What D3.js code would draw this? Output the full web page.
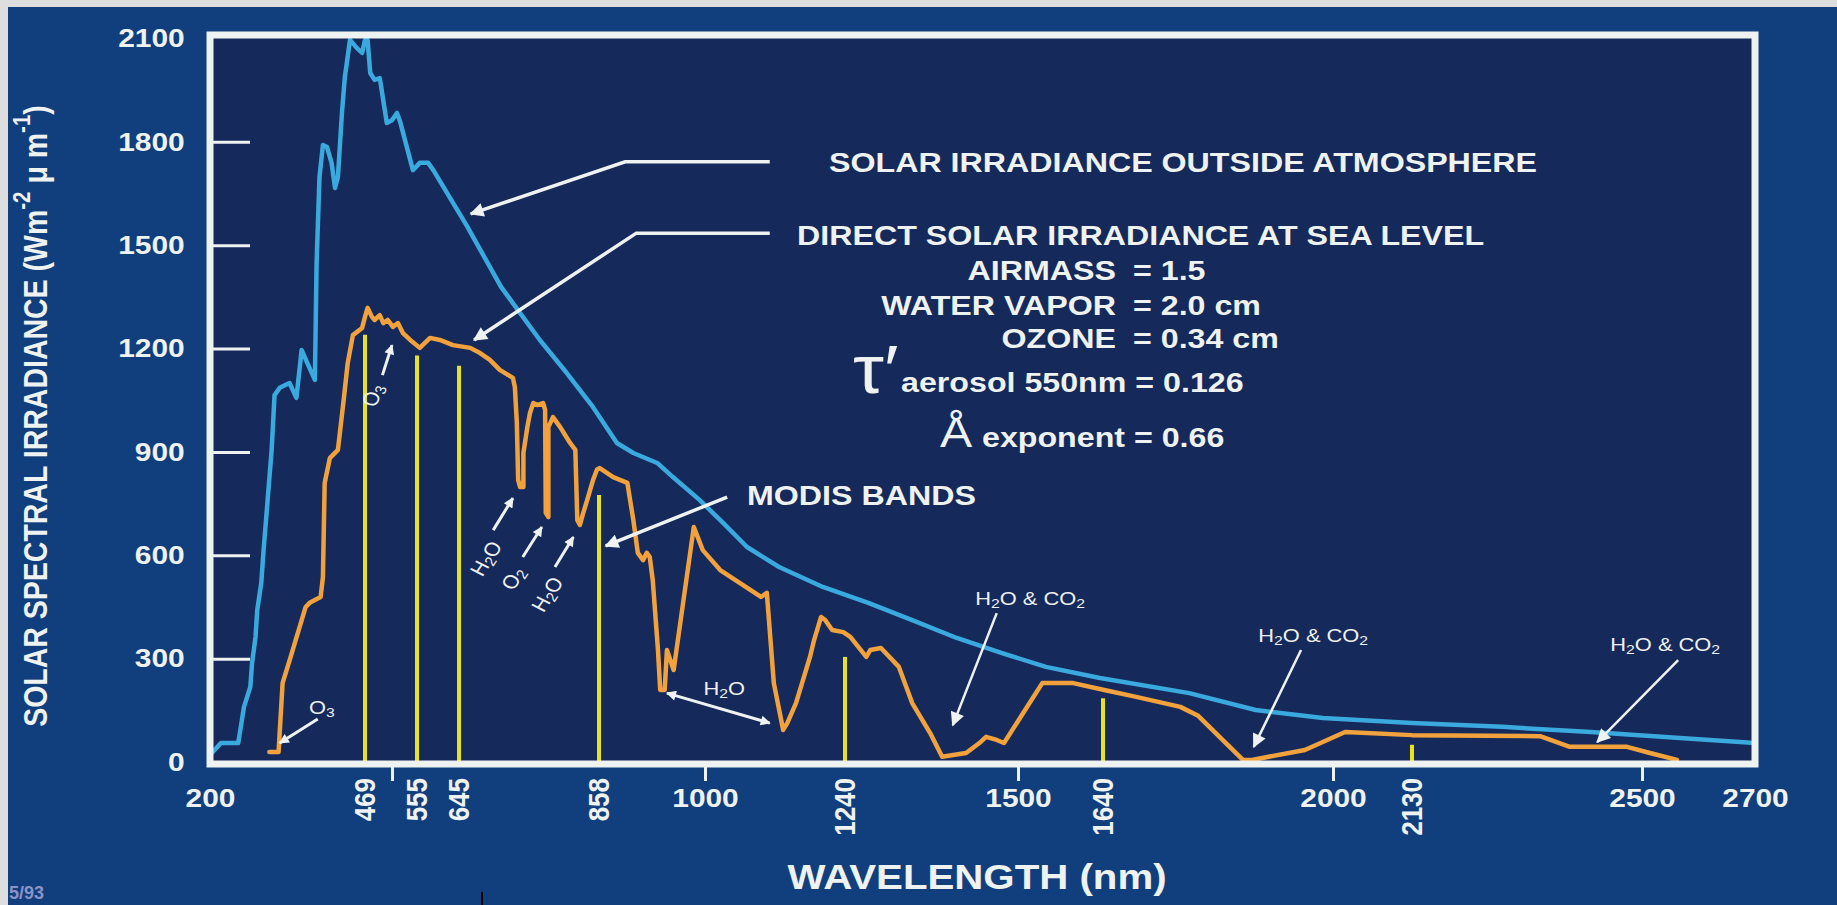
<!DOCTYPE html>
<html>
<head>
<meta charset="utf-8">
<script src="https://cdn.jsdelivr.net/npm/d3@7"></script>
<style>
  html, body { margin: 0; padding: 0; background: #dedede; overflow: hidden; }
  svg { display: block; }
  text { font-family: "Liberation Sans", Arial, Helvetica, sans-serif; fill: #eef2f0; }
</style>
</head>
<body>
<svg id="chart" width="1837" height="905"></svg>
<script>
// ---- Spectra: [wavelength nm, irradiance W m-2 um-1] ----
const toaSpectrum = [
  [200,20],[219,55],[249,55],[259,160],[270,218],[273,287],[279,363],[282,441],[289,520],[293,615],
  [300,760],[307,906],[312,1065],[321,1086],[338,1100],[350,1057],[359,1196],[369,1158],[382,1109],
  [385,1448],[390,1698],[396,1791],[403,1785],[411,1739],[417,1666],[422,1698],[429,1884],[434,1988],
  [443,2096],[455,2072],[464,2058],[469,2096],[472,2096],[475,2000],[480,1980],[486,1985],[494,1855],
  [500,1863],[511,1884],[518,1858],[546,1718],[561,1739],[579,1739],[590,1718],[657,1556],[709,1379],
  [738,1303],[768,1225],[809,1129],[849,1030],[882,926],[904,897],[936,868],[957,827],[993,760],
  [1031,694],[1072,624],[1127,566],[1202,508],[1275,462],[1341,412],[1408,360],[1476,316],[1546,276],
  [1635,244],[1775,200],[1879,151],[1984,128],[2130,113],[2275,102],[2418,87],[2567,70],[2700,55]
];
const seaLevelSpectrum = [
  [303,29],[319,29],[326,229],[340,305],[366,450],[373,462],[392,479],[396,537],[399,810],[408,882],
  [422,906],[432,1051],[439,1158],[448,1239],[464,1260],[469,1292],[472,1318],[477,1292],[480,1283],
  [486,1297],[490,1274],[495,1283],[502,1263],[513,1274],[524,1245],[540,1225],[561,1202],[583,1231],
  [604,1225],[632,1210],[662,1202],[677,1187],[692,1167],[707,1138],[727,1115],[730,1088],[733,984],
  [735,819],[738,798],[743,798],[743,897],[749,972],[753,1013],[758,1042],[764,1036],[773,1042],
  [776,1022],[777,723],[781,711],[781,972],[788,1001],[799,972],[814,926],[822,906],[825,702],
  [829,688],[834,723],[840,760],[849,819],[855,849],[859,853],[877,827],[896,810],[904,702],[910,607],
  [917,586],[922,607],[926,595],[930,528],[937,325],[940,209],[946,209],[949,325],[958,267],[985,682],
  [997,615],[1026,557],[1096,479],[1106,491],[1118,229],[1134,93],[1141,113],[1156,171],[1180,305],
  [1187,354],[1199,421],[1206,412],[1218,383],[1237,377],[1248,363],[1272,305],[1278,325],[1294,331],
  [1321,276],[1341,171],[1368,84],[1386,15],[1422,26],[1442,55],[1452,73],[1468,64],[1479,55],
  [1540,229],[1591,229],[1642,209],[1692,189],[1761,160],[1789,134],[1859,6],[1873,6],[1956,35],
  [2020,87],[2130,78],[2336,75],[2384,44],[2476,44],[2514,26],[2562,6]
];

// ---- MODIS band centres and the height of each band marker ----
const modisBandsNm = [469, 555, 645, 858, 1240, 1640, 2130];
const modisBandTops = [1240, 1180, 1150, 775, 305, 185, 50];

// ---- Axis ticks ----
const yTickValues = [0, 300, 600, 900, 1200, 1500, 1800, 2100];
const xTickMarks = [500, 1000, 1500, 2000, 2500];
const xTickLabels = [200, 1000, 1500, 2000, 2500, 2700];

// ---- Wavelength axis breakpoints (the axis is drawn piecewise) ----
const axisBreaksNm = [200, 469, 500, 555, 645, 858, 1000, 1240, 1500, 1640, 2000, 2130, 2500, 2700];
const axisBreaksPx = [210, 365, 392, 417, 459, 599, 705, 845, 1018, 1103, 1333, 1412, 1642, 1755];

// ---- Layout ----
const W = 1837, H = 905;
const SX = 1.15;                      // horizontal stretch applied to all lettering
const frame = { left: 210, right: 1755, top: 35, bottom: 764 };
const WHITE = "#eef2f0";
const FONT = '"Liberation Sans", Arial, sans-serif';

const svg = d3.select("#chart");
svg.append("rect").attr("width", W).attr("height", H).attr("fill", "#dedede");
svg.append("rect").attr("x", 8).attr("y", 7).attr("width", W - 8).attr("height", H - 7).attr("fill", "#113e7d");
svg.append("rect")
  .attr("x", frame.left).attr("y", frame.top)
  .attr("width", frame.right - frame.left).attr("height", frame.bottom - frame.top)
  .attr("fill", "#15295b");

const x = d3.scaleLinear().domain(axisBreaksNm).range(axisBreaksPx);
const y = d3.scaleLinear().domain([0, 2100]).range([762, 38.5]);

// arrowheads
const defs = svg.append("defs");
function marker(id, w, h) {
  defs.append("marker")
    .attr("id", id).attr("viewBox", "0 0 10 10")
    .attr("refX", 9).attr("refY", 5)
    .attr("markerUnits", "userSpaceOnUse")
    .attr("markerWidth", w).attr("markerHeight", h)
    .attr("orient", "auto-start-reverse")
    .append("path").attr("d", "M0,0 L10,5 L0,10 Z").attr("fill", WHITE);
}
marker("head", 24, 14);
marker("headS", 16, 10);

// text helpers
function sText(parent, px, py, rot) {
  return parent.append("text")
    .attr("transform", `translate(${px},${py}) scale(${SX},1)` + (rot ? ` rotate(${rot})` : ""));
}
function richText(t, parts, fs) {
  let shift = 0;
  parts.forEach(([s, kind]) => {
    const target = kind === "sub" ? 0.3 * fs : kind === "sup" ? -0.42 * fs : 0;
    const ts = t.append("tspan").attr("dy", target - shift).text(s);
    if (kind) ts.attr("font-size", fs * 0.72);
    shift = target;
  });
  return t;
}

// ---- MODIS band markers ----
const plot = svg.append("g");
plot.selectAll("line.band")
  .data(d3.zip(modisBandsNm, modisBandTops))
  .join("line").attr("class", "band")
  .attr("x1", d => x(d[0])).attr("x2", d => x(d[0]))
  .attr("y1", y(0) + 4).attr("y2", d => y(d[1]))
  .attr("stroke", "#e9e21e").attr("stroke-width", 4);

// ---- Spectra ----
const line = d3.line().x(d => x(d[0])).y(d => y(d[1]));
plot.append("path").datum(toaSpectrum).attr("d", line)
  .attr("fill", "none").attr("stroke", "#3aa9dd").attr("stroke-width", 4.5)
  .attr("stroke-linejoin", "round").attr("stroke-linecap", "round");
plot.append("path").datum(seaLevelSpectrum).attr("d", line)
  .attr("fill", "none").attr("stroke", "#f2a23c").attr("stroke-width", 4.5)
  .attr("stroke-linejoin", "round").attr("stroke-linecap", "round");

// ---- Frame ----
svg.append("rect")
  .attr("x", frame.left).attr("y", frame.top)
  .attr("width", frame.right - frame.left).attr("height", frame.bottom - frame.top)
  .attr("fill", "none").attr("stroke", WHITE).attr("stroke-width", 7);

// ---- Y axis ----
const yAxis = d3.axisLeft(y).tickValues(yTickValues).tickFormat(d3.format("d"))
  .tickSizeInner(-40).tickSizeOuter(0).tickPadding(22);
const yg = svg.append("g").attr("transform", `translate(${frame.left},0)`).call(yAxis);
yg.select(".domain").remove();
yg.selectAll(".tick line")
  .attr("stroke", WHITE).attr("stroke-width", 3)
  .attr("display", d => (d === 0 || d === 2100) ? "none" : null);
yg.selectAll(".tick text")
  .attr("transform", `scale(${SX},1)`)
  .attr("fill", WHITE).attr("font-size", 26).attr("font-weight", "bold")
  .attr("font-family", FONT);

// ---- X axis: tick marks ----
const xAxisMarks = d3.axisBottom(x).tickValues(xTickMarks).tickSize(15).tickFormat("");
const xg = svg.append("g").attr("transform", `translate(0,${frame.bottom + 2})`).call(xAxisMarks);
xg.select(".domain").remove();
xg.selectAll(".tick line").attr("stroke", WHITE).attr("stroke-width", 3);

// ---- X axis: labels ----
const xAxisLabels = d3.axisBottom(x).tickValues(xTickLabels).tickSize(0).tickFormat(d3.format("d"));
const xl = svg.append("g").attr("transform", `translate(0,${frame.bottom})`).call(xAxisLabels);
xl.select(".domain").remove();
xl.selectAll(".tick text")
  .attr("y", 34).attr("dy", "0.35em")
  .attr("transform", `scale(${SX},1)`)
  .attr("fill", WHITE).attr("font-size", 26).attr("font-weight", "bold")
  .attr("font-family", FONT);

// band labels, rotated beneath each band
modisBandsNm.forEach(nm => {
  sText(svg, x(nm), frame.bottom + 14, -90)
    .attr("text-anchor", "end").attr("dominant-baseline", "central")
    .attr("font-size", 26).attr("font-weight", "bold").text(nm);
});

// axis titles
sText(svg, 977, 877).attr("text-anchor", "middle").attr("dominant-baseline", "central")
  .attr("font-size", 35).attr("font-weight", "bold").text("WAVELENGTH (nm)");
richText(
  sText(svg, 35, 416, -90).attr("text-anchor", "middle").attr("dominant-baseline", "central")
    .attr("font-size", 28.5).attr("font-weight", "bold"),
  [["SOLAR SPECTRAL IRRADIANCE (Wm"], ["-2", "sup"], [" \u03bc m"], ["-1", "sup"], [")"]], 28.5);

// ---- Curve captions and leaders ----
const leaders = [
  { pts: [[1111, 1742], [893, 1742], [663, 1591]] },
  { pts: [[1111, 1535], [908, 1535], [668, 1225]] },
  { pts: [[1038, 769], [867, 627]] }
];
leaders.forEach(l => {
  svg.append("path").attr("d", d3.line().x(d => x(d[0])).y(d => y(d[1])).curve(d3.curveLinear)(l.pts))
    .attr("fill", "none").attr("stroke", WHITE).attr("stroke-width", 3.5)
    .attr("marker-end", "url(#head)");
});

sText(svg, 829, 162).attr("dominant-baseline", "central").attr("font-size", 28)
  .attr("font-weight", "bold").text("SOLAR IRRADIANCE OUTSIDE ATMOSPHERE");
sText(svg, 797, 235).attr("dominant-baseline", "central").attr("font-size", 28)
  .attr("font-weight", "bold").text("DIRECT SOLAR IRRADIANCE AT SEA LEVEL");
sText(svg, 747, 495).attr("dominant-baseline", "central").attr("font-size", 28)
  .attr("font-weight", "bold").text("MODIS BANDS");

// atmospheric conditions
const conditionNames = ["AIRMASS", "WATER VAPOR", "OZONE"];
const conditionValues = ["= 1.5", "= 2.0 cm", "= 0.34 cm"];
const conditionRows = [270, 305, 338];
conditionNames.forEach((n, i) => {
  sText(svg, 1116, conditionRows[i]).attr("text-anchor", "end").attr("dominant-baseline", "central")
    .attr("font-size", 28).attr("font-weight", "bold").text(n);
  sText(svg, 1133, conditionRows[i]).attr("dominant-baseline", "central")
    .attr("font-size", 28).attr("font-weight", "bold").text(conditionValues[i]);
});
sText(svg, 853, 393).attr("font-family", '"Liberation Serif", "DejaVu Serif", serif')
  .attr("font-size", 68).text("\u03c4\u2032");
sText(svg, 901, 392).attr("font-size", 28).attr("font-weight", "bold").text("aerosol 550nm = 0.126");
sText(svg, 940, 447).attr("font-size", 42).text("\u00c5");
sText(svg, 982, 447).attr("font-size", 28).attr("font-weight", "bold").text("exponent = 0.66");

// ---- Absorption notes ----
const absorptionArrows = [
  { from: [489, 1123], to: [500, 1210], small: true },      // O3 (visible)
  { from: [387, 125], to: [321, 55], small: true },         // O3 (UV)
  { from: [697, 673], to: [727, 766], small: true },        // H2O
  { from: [742, 595], to: [771, 682], small: true },        // O2
  { from: [791, 566], to: [819, 653], small: true },        // H2O
  { from: [1468, 432], to: [1402, 107] },                   // H2O & CO2
  { from: [1950, 325], to: [1876, 44] },
  { from: [2564, 296], to: [2428, 58] }
];
absorptionArrows.forEach(a => {
  svg.append("line")
    .attr("x1", x(a.from[0])).attr("y1", y(a.from[1]))
    .attr("x2", x(a.to[0])).attr("y2", y(a.to[1]))
    .attr("stroke", WHITE).attr("stroke-width", a.small ? 3 : 2.5)
    .attr("marker-end", a.small ? "url(#headS)" : "url(#head)");
});
// double-headed water band arrow
svg.append("line")
  .attr("x1", x(949)).attr("y1", y(200)).attr("x2", x(1111)).attr("y2", y(113))
  .attr("stroke", WHITE).attr("stroke-width", 3)
  .attr("marker-start", "url(#headS)").attr("marker-end", "url(#headS)");

const noteFs = 19;
const absorptionLabels = [
  { at: [1033, 215], rot: 0, parts: [["H"], ["2", "sub"], ["O"]] },
  { at: [477, 1065], rot: -72, parts: [["O"], ["3", "sub"]] },
  { at: [394, 160], rot: 0, parts: [["O"], ["3", "sub"]] },
  { at: [685, 592], rot: -60, parts: [["H"], ["2", "sub"], ["O"]] },
  { at: [726, 534], rot: -60, parts: [["O"], ["2", "sub"]] },
  { at: [778, 488], rot: -60, parts: [["H"], ["2", "sub"], ["O"]] },
  { at: [1520, 476], rot: 0, parts: [["H"], ["2", "sub"], ["O & CO"], ["2", "sub"]] },
  { at: [1969, 369], rot: 0, parts: [["H"], ["2", "sub"], ["O & CO"], ["2", "sub"]] },
  { at: [2541, 343], rot: 0, parts: [["H"], ["2", "sub"], ["O & CO"], ["2", "sub"]] }
];
absorptionLabels.forEach(l => {
  richText(
    sText(svg, x(l.at[0]), y(l.at[1]), l.rot).attr("text-anchor", "middle")
      .attr("dominant-baseline", "central").attr("font-size", noteFs),
    l.parts, noteFs);
});

// ---- Slide footer ----
svg.append("text").attr("x", 9).attr("y", 899).attr("font-size", 18).attr("font-weight", "bold")
  .style("fill", "#8a93c6").text("5/93");
svg.append("line").attr("x1", 482).attr("x2", 482).attr("y1", 892).attr("y2", 905)
  .attr("stroke", "#000").attr("stroke-width", 2);
</script>
</body>
</html>
